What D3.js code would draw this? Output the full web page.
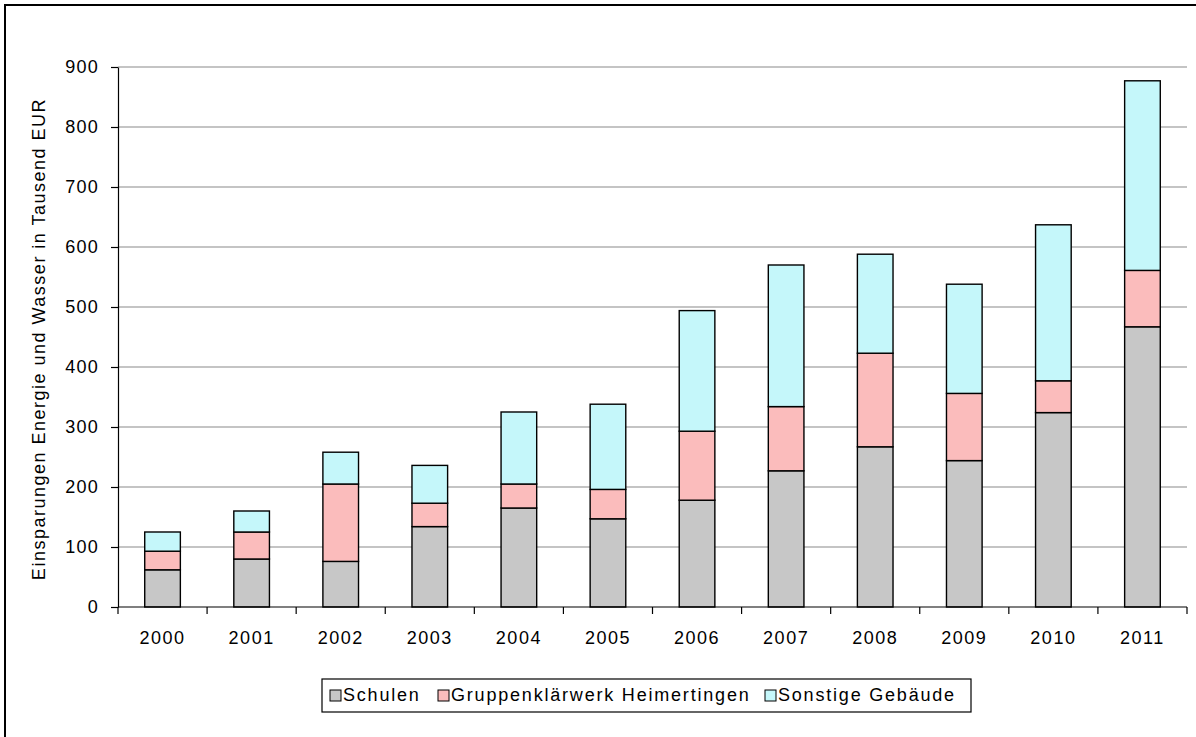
<!DOCTYPE html>
<html>
<head>
<meta charset="utf-8">
<script src="https://cdn.jsdelivr.net/npm/d3@7"></script>
<style>
  html, body { margin: 0; padding: 0; background: #fff; }
  svg { display: block; font-family: "Liberation Sans", Arial, sans-serif; }
</style>
</head>
<body>
<svg id="chart" width="1196" height="737"></svg>
<script>
// Einsparungen (Tausend EUR) je Jahr und Bereich
const years = ["2000","2001","2002","2003","2004","2005","2006","2007","2008","2009","2010","2011"];
const schulen = [62, 80, 76, 134, 165, 147, 178, 227, 267, 244, 324, 467];
const klaerwerk = [31, 45, 129, 39, 40, 49, 115, 107, 156, 112, 53, 94];
const sonstige = [32, 35, 53, 63, 120, 142, 201, 236, 165, 182, 260, 316];
const seriesNames = ["Schulen", "Gruppenklärwerk Heimertingen", "Sonstige Gebäude"];
const seriesColors = ["#c7c7c7", "#fbbcbc", "#c5f7fa"];
const yTicks = [0, 100, 200, 300, 400, 500, 600, 700, 800, 900];
const yTitle = "Einsparungen Energie und Wasser  in Tausend EUR";

const FONT = "Liberation Sans, Arial, sans-serif";
const svg = d3.select("#chart");

// outer frame
svg.append("rect")
  .attr("x", 5).attr("y", 5).attr("width", 1200).attr("height", 740)
  .attr("fill", "none").attr("stroke", "#000").attr("stroke-width", 2);

const plot = { left: 118, right: 1187, top: 67, bottom: 607 };

const x = d3.scaleBand().domain(years)
  .range([plot.left, plot.right]).paddingInner(0.6).paddingOuter(0.3);
const y = d3.scaleLinear().domain([0, 900]).range([plot.bottom, plot.top]);

// gridlines
svg.append("g").selectAll("line").data(yTicks.filter(d => d > 0)).join("line")
  .attr("x1", plot.left).attr("x2", plot.right)
  .attr("y1", d => y(d)).attr("y2", d => y(d))
  .attr("stroke", "#c4c4c4").attr("stroke-width", 2.2);

// stacked bars
const rows = years.map((yr, i) => ({ year: yr, s0: schulen[i], s1: klaerwerk[i], s2: sonstige[i] }));
const stack = d3.stack().keys(["s0", "s1", "s2"])(rows);
svg.append("g").selectAll("g").data(stack).join("g")
  .attr("fill", (d, i) => seriesColors[i])
  .selectAll("rect").data(d => d).join("rect")
  .attr("x", d => x(d.data.year))
  .attr("width", x.bandwidth())
  .attr("y", d => y(d[1]))
  .attr("height", d => y(d[0]) - y(d[1]))
  .attr("stroke", "#000").attr("stroke-width", 1.4);

// y axis
const yAxis = svg.append("g").attr("transform", `translate(${plot.left},0)`)
  .call(d3.axisLeft(y).tickValues(yTicks).tickSize(7).tickPadding(12).tickSizeOuter(0));
yAxis.select(".domain").attr("stroke", "#000").attr("stroke-width", 1.2);
yAxis.selectAll(".tick line").attr("stroke", "#000").attr("stroke-width", 1.2);
yAxis.selectAll(".tick text")
  .attr("font-size", 18).attr("letter-spacing", 1.2).attr("fill", "#000")
  .attr("font-family", FONT);

// x axis
const xAxis = svg.append("g").attr("transform", `translate(0,${plot.bottom})`)
  .call(d3.axisBottom(x).tickSize(0).tickPadding(24));
xAxis.select(".domain").attr("stroke", "#000").attr("stroke-width", 1.2)
  .attr("d", `M${plot.left},0H${plot.right}`);
xAxis.selectAll(".tick text")
  .attr("font-size", 18).attr("letter-spacing", 1.5).attr("fill", "#000")
  .attr("font-family", FONT);
// category separators
const step = x.step();
const bounds = years.map(d => x(d) - (step - x.bandwidth()) / 2).concat([plot.right]);
xAxis.append("g").selectAll("line").data(bounds).join("line")
  .attr("x1", d => d).attr("x2", d => d).attr("y1", 0).attr("y2", 7)
  .attr("stroke", "#000").attr("stroke-width", 1.2);

// y axis title
svg.append("text")
  .attr("transform", `translate(45,${(plot.top + plot.bottom) / 2 + 2}) rotate(-90)`)
  .attr("text-anchor", "middle")
  .attr("font-size", 18).attr("letter-spacing", 1.5)
  .text(yTitle);

// legend
const legend = svg.append("g");
legend.append("rect")
  .attr("x", 322).attr("y", 679).attr("width", 649).attr("height", 33)
  .attr("fill", "#fff").attr("stroke", "#000").attr("stroke-width", 1.2);
const itemX = [330, 438, 765];
const item = legend.selectAll("g.item").data(seriesNames).join("g")
  .attr("class", "item")
  .attr("transform", (d, i) => `translate(${itemX[i]},0)`);
item.append("rect")
  .attr("x", 0).attr("y", 690).attr("width", 11).attr("height", 11)
  .attr("fill", (d, i) => seriesColors[i]).attr("stroke", "#000").attr("stroke-width", 1);
item.append("text")
  .attr("x", 13).attr("y", 701)
  .attr("font-size", 18).attr("letter-spacing", 1.8)
  .text(d => d);
</script>
</body>
</html>
